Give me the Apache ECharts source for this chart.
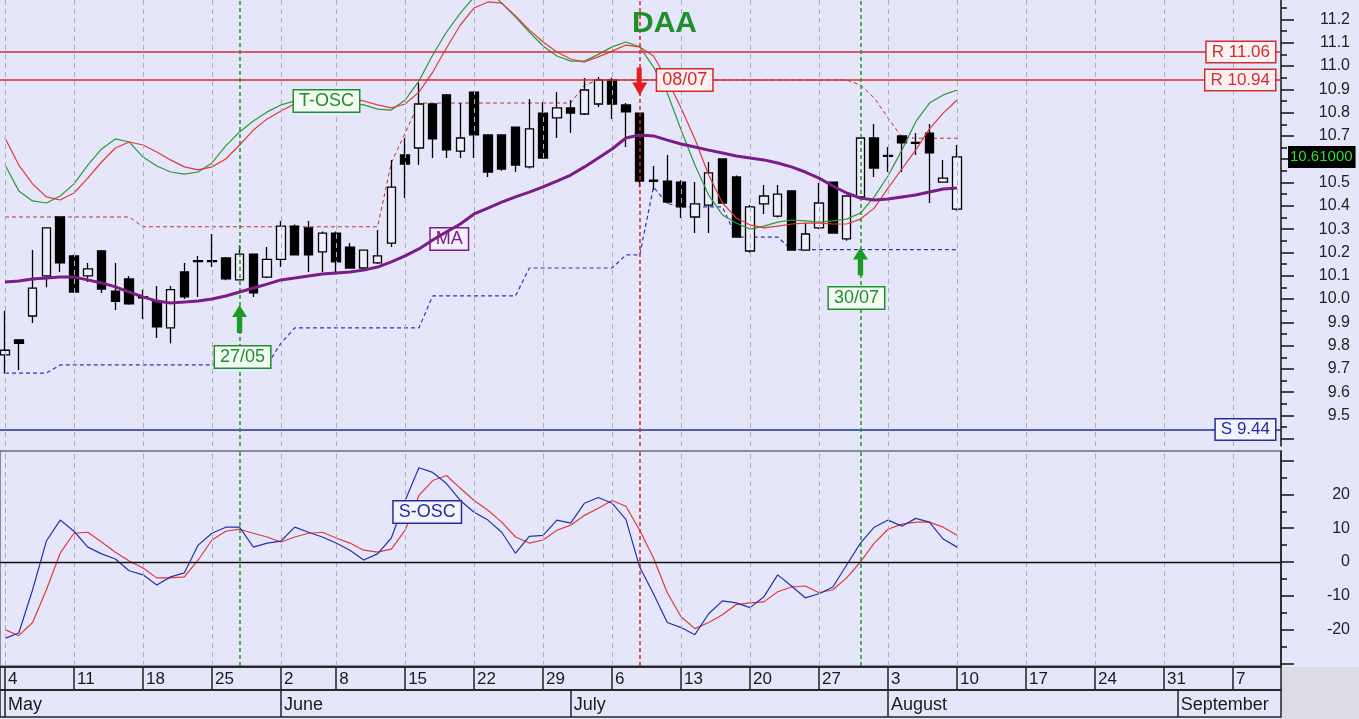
<!DOCTYPE html>
<html><head><meta charset="utf-8">
<script src="https://cdn.jsdelivr.net/npm/echarts@6/dist/echarts.min.js"></script>
<style>html,body{margin:0;padding:0;background:#e6e6fa;}#c{width:1359px;height:719px;}</style>
</head><body><div id="c"></div>
<script>
// ---- data (trading-day index 0 = 4 May) ----
const candleOpen  = [9.76,9.825,9.927,10.099,10.352,10.185,10.099,10.206,10.034,10.086, 10.01,9.99,9.876,10.116,10.16,10.16,10.176,10.082,10.193,10.094, 10.17,10.313,10.305,10.202,10.283,10.223,10.133,10.155,10.24,10.618, 10.648,10.837,10.876,10.635,10.888,10.704,10.704,10.738,10.567,10.798, 10.777,10.82,10.794,10.837,10.94,10.833,10.798,10.51,10.506,10.502, 10.352,10.403,10.601,10.524,10.206,10.408,10.356,10.464,10.21,10.305, 10.502,10.258,10.438,10.691,10.616,10.70,10.672,10.712,10.502,10.386];
const candleClose = [9.78,9.81,10.047,10.305,10.155,10.03,10.129,10.043,9.99,9.979, 10.005,9.88,10.04,10.009,10.165,10.165,10.086,10.193,10.026,10.17, 10.313,10.189,10.189,10.283,10.159,10.133,10.21,10.185,10.48,10.579, 10.837,10.687,10.64,10.691,10.704,10.545,10.558,10.575,10.73,10.605, 10.82,10.798,10.897,10.94,10.837,10.803,10.506,10.505,10.416,10.395, 10.408,10.541,10.412,10.266,10.395,10.442,10.45,10.21,10.279,10.412, 10.283,10.442,10.691,10.562,10.612,10.67,10.668,10.627,10.519,10.61];
const candleLow   = [9.68,9.695,9.897,10.05,10.116,10.03,10.073,10.026,9.953,9.975, 9.914,9.833,9.81,10.0,10.009,10.137,10.08,10.08,10.009,10.09, 10.137,10.189,10.116,10.116,10.116,10.13,10.13,10.15,10.223,10.433, 10.575,10.605,10.605,10.605,10.605,10.524,10.55,10.545,10.56,10.605, 10.691,10.712,10.79,10.824,10.773,10.652,10.48,10.468,10.41,10.348, 10.283,10.283,10.41,10.266,10.20,10.365,10.35,10.21,10.21,10.30, 10.28,10.25,10.43,10.524,10.545,10.545,10.618,10.412,10.50,10.38];
const candleHigh  = [9.95,9.825,10.21,10.305,10.352,10.19,10.155,10.21,10.155,10.099, 10.04,10.056,10.056,10.155,10.185,10.279,10.18,10.23,10.195,10.223, 10.335,10.32,10.335,10.29,10.29,10.24,10.21,10.296,10.597,10.691, 10.927,10.84,10.88,10.841,10.89,10.704,10.704,10.74,10.858,10.845, 10.888,10.854,10.948,10.953,10.95,10.841,10.80,10.571,10.618,10.51, 10.502,10.588,10.601,10.53,10.403,10.489,10.489,10.464,10.326,10.498, 10.502,10.442,10.691,10.751,10.652,10.70,10.712,10.751,10.597,10.661];
const maLine      = [10.073,10.077,10.086,10.09,10.094,10.094,10.082,10.069,10.052,10.03, 10.009,9.991,9.983,9.987,9.991,10.0,10.013,10.03,10.047,10.064, 10.082,10.09,10.099,10.107,10.112,10.116,10.124,10.137,10.159,10.185, 10.215,10.253,10.288,10.322,10.365,10.39,10.416,10.438,10.459,10.481, 10.506,10.532,10.567,10.605,10.644,10.691,10.704,10.70,10.682,10.665, 10.652,10.639,10.627,10.614,10.605,10.597,10.584,10.567,10.545,10.519, 10.485,10.455,10.433,10.425,10.429,10.438,10.446,10.459,10.472,10.476];
const tOscFast    = [10.575,10.464,10.421,10.412,10.442,10.494,10.575,10.644,10.687,10.674, 10.609,10.571,10.545,10.536,10.545,10.584,10.657,10.717,10.764,10.803, 10.833,10.85,10.85,10.85,10.845,10.841,10.833,10.815,10.811,10.854, 10.936,11.047,11.146,11.227,11.296,11.326,11.27,11.21,11.146,11.086, 11.043,11.021,11.021,11.05,11.082,11.103,11.082,10.996,10.884,10.725, 10.575,10.446,10.361,10.326,10.30,10.313,10.33,10.339,10.335,10.33, 10.335,10.343,10.369,10.438,10.528,10.639,10.76,10.841,10.876,10.897];
const tOscSlow    = [10.691,10.575,10.494,10.438,10.425,10.455,10.519,10.588,10.648,10.674, 10.661,10.631,10.597,10.567,10.554,10.567,10.601,10.661,10.725,10.773, 10.807,10.837,10.854,10.858,10.858,10.858,10.85,10.833,10.82,10.837, 10.888,10.974,11.077,11.176,11.249,11.275,11.27,11.215,11.155,11.103, 11.06,11.03,11.017,11.039,11.064,11.09,11.082,11.043,10.94,10.82, 10.687,10.532,10.412,10.348,10.318,10.305,10.313,10.322,10.326,10.326, 10.322,10.322,10.343,10.39,10.476,10.558,10.639,10.73,10.798,10.854];
const chanHigh    = [10.352,10.352,10.352,10.352,10.352,10.352,10.352,10.352,10.352,10.352, 10.31,10.31,10.31,10.31,10.31,10.31,10.31,10.31,10.31,10.31, 10.31,10.31,10.31,10.31,10.31,10.31,10.31,10.31,10.584,10.712, 10.841,10.841,10.841,10.841,10.841,10.841,10.841,10.841,10.841,10.841, 10.841,10.841,10.918,10.94,10.94,10.94,10.94,10.94,10.94,10.94, 10.94,10.94,10.94,10.94,10.94,10.94,10.94,10.94,10.94,10.94, 10.94,10.94,10.918,10.863,10.777,10.695,10.69,10.69,10.69,10.69];
const chanLow     = [9.682,9.682,9.682,9.682,9.717,9.717,9.717,9.717,9.717,9.717, 9.717,9.717,9.717,9.717,9.717,9.717,9.717,9.717,9.717,9.717, 9.81,9.876,9.876,9.876,9.876,9.876,9.876,9.876,9.876,9.876, 9.876,10.013,10.013,10.013,10.013,10.013,10.013,10.013,10.133,10.133, 10.133,10.133,10.133,10.133,10.133,10.189,10.189,10.48,10.41,10.395, 10.395,10.395,10.395,10.266,10.266,10.266,10.266,10.212,10.212,10.212, 10.212,10.212,10.212,10.212,10.212,10.212,10.212,10.212,10.212,10.212];
const sOscFast    = [-22.6,-21,-8.2,6.2,12.4,9.1,4.4,2.4,0.9,-2.6, -3.8,-6.8,-4.4,-3.2,5.0,8.5,10.3,10.3,4.4,5.6, 6.2,10.3,8.8,7.4,5.6,3.5,0.6,2.4,7.1,18.2, 27.9,26.5,23.2,18.2,14.7,12.4,8.8,2.6,7.6,7.9, 12.4,11.5,17.4,19.1,17.4,12.6,-1.5,-9.4,-17.9,-19.4, -21.5,-15.3,-11.5,-12.1,-13.5,-10.3,-3.8,-7.1,-10.6,-9.4, -7.4,-0.9,5.6,10.3,12.4,10.6,12.9,11.8,6.8,4.4];
const sOscSlow    = [-20,-21.8,-17.9,-8.2,2.6,8.5,8.8,5.9,2.9,0.3, -1.8,-4.7,-4.7,-4.4,0.6,6.5,9.1,9.7,8.5,7.4, 5.9,7.4,8.5,8.8,7.1,5.6,3.5,2.9,3.8,9.4, 19.7,24.1,25.6,21.8,18.2,15.3,11.8,7.4,5.6,6.5, 9.4,10.9,13.8,15.9,18.2,16.5,9.4,1.2,-9.1,-16.2, -19.7,-17.9,-15.6,-12.6,-12.1,-11.8,-8.8,-7.4,-7.1,-9.1, -8.2,-4.7,0,5.6,9.7,11.2,11.8,11.8,10.3,7.9];

const weekIdx     = [0,5,10,15,20,24,29,34,39,44,49,54,59,64,69,74,79,84,89];
const weekLabels  = ['4','11','18','25','2','8','15','22','29','6','13','20','27','3','10','17','24','31','7'];
const monthIdx    = [0,20,41,64,85];
const monthLabels = ['May','June','July','August','September'];
const priceTicks  = [9.4,9.5,9.6,9.7,9.8,9.9,10.0,10.1,10.2,10.3,10.4,10.5,10.6,10.7,10.8,10.9,11.0,11.1,11.2,11.3];
const priceLabels = [9.5,9.6,9.7,9.8,9.9,10.0,10.1,10.2,10.3,10.4,10.5,10.6,10.7,10.8,10.9,11.0,11.1,11.2];
const oscTicks    = [-30,-20,-10,0,10,20,30];
const oscLabels   = [-20,-10,0,10,20];
const resistLevels = [11.06, 10.94];
const supportLevels = [9.44];
const signalIdx    = [17, 46, 62];
const signalText   = ['27/05', '08/07', '30/07'];
const signalBuy    = [true, false, true];

// ---- layout constants ----
const X_MIN = -0.362, X_MAX = 92.48;
const P_MIN = 9.3691, P_MAX = 11.2833;
const O_MIN = -30.77, O_MAX = 32.84;
const FONT = 'Liberation Sans, Arial, sans-serif';
const BG = '#e6e6fa';
const GREEN = '#1f8f2c', RED = '#d42a2a', BLUE = '#1f2f9f', PURPLE = '#7a1d86';

const pairs = arr => arr.map((v, i) => [i, v]);
const candles = candleOpen.map((o, i) => [i, o, candleClose[i], candleLow[i], candleHigh[i]]);
const lastClose = candleClose[candleClose.length - 1];
const minorPrice = priceTicks.map(v => +(v + 0.05).toFixed(2));
const minorOsc = oscTicks.slice(0, -1).map(v => v + 5);

function boxLabel(text, color, bg, extra) {
  return Object.assign({
    show: true, position: 'inside', formatter: text, color: color, fontFamily: FONT,
    fontSize: 18, backgroundColor: bg, borderColor: color, borderWidth: 1.5,
    padding: [2, 5, 1, 5]
  }, extra || {});
}
const UP_ARROW = 'path://M7,0 L14,12 L9.5,12 L9.5,28 L4.5,28 L4.5,12 L0,12 Z';
const DOWN_ARROW = 'path://M4.5,0 L9.5,0 L9.5,15 L15,15 L7.5,28 L0,15 L4.5,15 Z';

const xBase = {type: 'value', min: X_MIN, max: X_MAX};
const hiddenX = i => Object.assign({}, xBase, {gridIndex: i, show: false, splitLine: {show: false}});
const hiddenY = i => ({gridIndex: i, type: 'value', min: 0, max: 1, show: false, splitLine: {show: false}});
const axLine = {show: true, onZero: false, lineStyle: {color: '#111', width: 1.5}};

const option = {
  animation: false,
  backgroundColor: BG,
  textStyle: {fontFamily: FONT},
  title: {text: 'DAA', left: 627, top: 4, textStyle: {fontSize: 30, fontWeight: 'bold', color: GREEN, fontFamily: FONT}},
  graphic: [{type: 'rect', right: 0, bottom: 0, shape: {width: 78, height: 52}, style: {fill: '#dcdce4'}, z: -1}],
  grid: [
    {left: 0, right: 78, top: 0, height: 446, show: true, backgroundColor: BG, borderWidth: 0},
    {left: 0, right: 78, top: 451, height: 215, show: true, backgroundColor: BG, borderColor: '#6e6e78', borderWidth: 1.5},
    {left: 0, right: 78, top: 667, height: 23, show: true, backgroundColor: BG, borderColor: '#222', borderWidth: 1.5},
    {left: 0, right: 78, top: 690, height: 27, show: true, backgroundColor: BG, borderColor: '#222', borderWidth: 1.5}
  ],
  xAxis: [
    hiddenX(0), hiddenX(1),
    Object.assign({}, xBase, {gridIndex: 2, position: 'top',
      axisLine: {show: true, onZero: false, lineStyle: {color: '#222', width: 1.5}},
      axisTick: {show: true, inside: true, length: 23, customValues: weekIdx, lineStyle: {color: '#222', width: 1.5}},
      axisLabel: {show: true, inside: true, customValues: weekIdx, margin: 4, align: 'left', verticalAlign: 'top',
        padding: [0, 0, 0, 3], fontSize: 17, color: '#1a1a1a', fontFamily: FONT,
        formatter: v => weekLabels[weekIdx.indexOf(Math.round(v))] || ''},
      splitLine: {show: false}}),
    Object.assign({}, xBase, {gridIndex: 3, position: 'top',
      axisLine: {show: true, onZero: false, lineStyle: {color: '#222', width: 1.5}},
      axisTick: {show: true, inside: true, length: 27, customValues: monthIdx, lineStyle: {color: '#222', width: 1.5}},
      axisLabel: {show: true, inside: true, customValues: monthIdx, margin: 6, align: 'left', verticalAlign: 'top',
        padding: [0, 0, 0, 3], fontSize: 18, color: '#1a1a1a', fontFamily: FONT,
        formatter: v => monthLabels[monthIdx.indexOf(Math.round(v))] || ''},
      splitLine: {show: false}})
  ],
  yAxis: [
    {gridIndex: 0, type: 'value', position: 'right', min: P_MIN, max: P_MAX, splitLine: {show: false},
      axisLine: axLine,
      axisTick: {show: true, length: 13, customValues: priceTicks, lineStyle: {color: '#111', width: 1.5}},
      axisLabel: {show: true, customValues: priceLabels, margin: 69, align: 'right', fontSize: 16, color: '#222',
        formatter: v => v.toFixed(1)}},
    {gridIndex: 0, type: 'value', position: 'right', min: P_MIN, max: P_MAX, splitLine: {show: false},
      axisLine: {show: false, onZero: false}, axisLabel: {show: false},
      axisTick: {show: true, length: 6, customValues: minorPrice, lineStyle: {color: '#111', width: 1.5}}},
    {gridIndex: 0, type: 'value', position: 'right', min: P_MIN, max: P_MAX, splitLine: {show: false}, z: 20,
      axisLine: {show: false, onZero: false}, axisTick: {show: false},
      axisLabel: {show: true, customValues: [lastClose], margin: 7, align: 'left', fontSize: 15, color: '#2ee02e',
        backgroundColor: '#000', padding: [4, 3, 3, 2], formatter: v => v.toFixed(5)}},
    {gridIndex: 1, type: 'value', position: 'right', min: O_MIN, max: O_MAX, splitLine: {show: false},
      axisLine: axLine,
      axisTick: {show: true, length: 13, customValues: oscTicks, lineStyle: {color: '#111', width: 1.5}},
      axisLabel: {show: true, customValues: oscLabels, margin: 69, align: 'right', fontSize: 16, color: '#222'}},
    {gridIndex: 1, type: 'value', position: 'right', min: O_MIN, max: O_MAX, splitLine: {show: false},
      axisLine: {show: false, onZero: false}, axisLabel: {show: false},
      axisTick: {show: true, length: 6, customValues: minorOsc, lineStyle: {color: '#111', width: 1.5}}},
    hiddenY(2), hiddenY(3)
  ],
  series: [
    // weekly grid lines
    {type: 'line', xAxisIndex: 0, yAxisIndex: 0, data: [], z: 1, silent: true,
      markLine: {silent: true, symbol: ['none', 'none'], label: {show: false},
        lineStyle: {color: '#adadbc', type: [5, 4], width: 1},
        data: weekIdx.map(v => ({xAxis: v}))}},
    {type: 'line', xAxisIndex: 1, yAxisIndex: 3, data: [], z: 1, silent: true,
      markLine: {silent: true, symbol: ['none', 'none'], label: {show: false},
        lineStyle: {color: '#adadbc', type: [5, 4], width: 1},
        data: weekIdx.map(v => ({xAxis: v})).concat([{yAxis: 0, lineStyle: {color: '#111', type: 'solid', width: 1.3}}])}},
    // channels
    {type: 'line', xAxisIndex: 0, yAxisIndex: 0, data: pairs(chanHigh), symbol: 'none', z: 2,
      lineStyle: {color: RED, width: 1, type: [4, 3]}},
    {type: 'line', xAxisIndex: 0, yAxisIndex: 0, data: pairs(chanLow), symbol: 'none', z: 2,
      lineStyle: {color: '#2a3ac0', width: 1.2, type: [4, 3]}},
    // candles
    {type: 'candlestick', xAxisIndex: 0, yAxisIndex: 0, data: candles, barWidth: 9, z: 3,
      itemStyle: {color: '#eeeefc', color0: '#000', borderColor: '#000', borderColor0: '#000', borderWidth: 1.3}},
    // T-OSC
    {type: 'line', xAxisIndex: 0, yAxisIndex: 0, data: pairs(tOscFast), symbol: 'none', z: 4,
      lineStyle: {color: '#2e9a34', width: 1.2},
      markPoint: {symbol: 'rect', symbolSize: 1, itemStyle: {color: 'transparent'},
        data: [{coord: [23.3, 10.85], label: boxLabel('T-OSC', GREEN, '#f3fbf3')}]}},
    {type: 'line', xAxisIndex: 0, yAxisIndex: 0, data: pairs(tOscSlow), symbol: 'none', z: 4,
      lineStyle: {color: '#e03a3a', width: 1.2}},
    // MA
    {type: 'line', xAxisIndex: 0, yAxisIndex: 0, data: pairs(maLine), symbol: 'none', z: 5,
      lineStyle: {color: PURPLE, width: 3},
      markPoint: {symbol: 'rect', symbolSize: 1, itemStyle: {color: 'transparent'},
        data: [{coord: [32.2, 10.258], label: boxLabel('MA', PURPLE, '#f6eef8')}]}},
    // levels, signal lines, arrows, signal labels
    {type: 'line', xAxisIndex: 0, yAxisIndex: 0, data: [], z: 6,
      markLine: {silent: true, symbol: ['none', 'none'],
        data: resistLevels.map(v => ({yAxis: v, lineStyle: {color: '#cc3030', width: 1.5, type: 'solid'},
            label: boxLabel('R ' + v.toFixed(2), '#cc3030', '#fcf0f2', {position: 'end', align: 'right', distance: -6, fontSize: 17})}))
          .concat(supportLevels.map(v => ({yAxis: v, lineStyle: {color: BLUE, width: 1.5, type: 'solid'},
            label: boxLabel('S ' + v.toFixed(2), BLUE, '#f4f4ff', {position: 'end', align: 'right', distance: -6, fontSize: 17})})))
          .concat(signalIdx.map((v, k) => ({xAxis: v, label: {show: false},
            lineStyle: {color: signalBuy[k] ? '#1a9a1a' : '#e02020', width: 1.5, type: [4, 3]}})))},
      markPoint: {
        data: [
          {coord: [signalIdx[0], 9.914], symbol: UP_ARROW, symbolSize: [15, 28], itemStyle: {color: '#1c9a26'}, label: {show: false}},
          {coord: [signalIdx[1], 10.933], symbol: DOWN_ARROW, symbolSize: [15, 28], itemStyle: {color: '#e41e1e'}, label: {show: false}},
          {coord: [signalIdx[2], 10.161], symbol: UP_ARROW, symbolSize: [15, 28], itemStyle: {color: '#1c9a26'}, label: {show: false}},
          {coord: [signalIdx[0], 9.751], symbol: 'rect', symbolSize: 1, itemStyle: {color: 'transparent'},
            label: boxLabel(signalText[0], GREEN, '#f3fbf3', {offset: [3, 0]})},
          {coord: [signalIdx[1], 10.94], symbol: 'rect', symbolSize: 1, itemStyle: {color: 'transparent'},
            label: boxLabel(signalText[1], '#d02a2a', '#fcf0f2', {offset: [45, 0]})},
          {coord: [signalIdx[2], 10.004], symbol: 'rect', symbolSize: 1, itemStyle: {color: 'transparent'},
            label: boxLabel(signalText[2], GREEN, '#f3fbf3', {offset: [-4, 0]})}
        ]}},
    // S-OSC
    {type: 'line', xAxisIndex: 1, yAxisIndex: 3, data: pairs(sOscSlow), symbol: 'none', z: 4,
      lineStyle: {color: '#e03a3a', width: 1.2}},
    {type: 'line', xAxisIndex: 1, yAxisIndex: 3, data: pairs(sOscFast), symbol: 'none', z: 4,
      lineStyle: {color: '#2433a8', width: 1.2},
      markPoint: {symbol: 'rect', symbolSize: 1, itemStyle: {color: 'transparent'},
        data: [{coord: [30.6, 14.8], label: boxLabel('S-OSC', BLUE, '#f4f4ff')}]}},
    {type: 'line', xAxisIndex: 1, yAxisIndex: 3, data: [], z: 3,
      markLine: {silent: true, symbol: ['none', 'none'], label: {show: false},
        data: signalIdx.map((v, k) => ({xAxis: v,
          lineStyle: {color: signalBuy[k] ? '#1a9a1a' : '#e02020', width: 1.5, type: [4, 3]}}))}}
  ]
};
const chart = echarts.init(document.getElementById('c'), null, {renderer: 'canvas'});
chart.setOption(option);
</script>
</body></html>
